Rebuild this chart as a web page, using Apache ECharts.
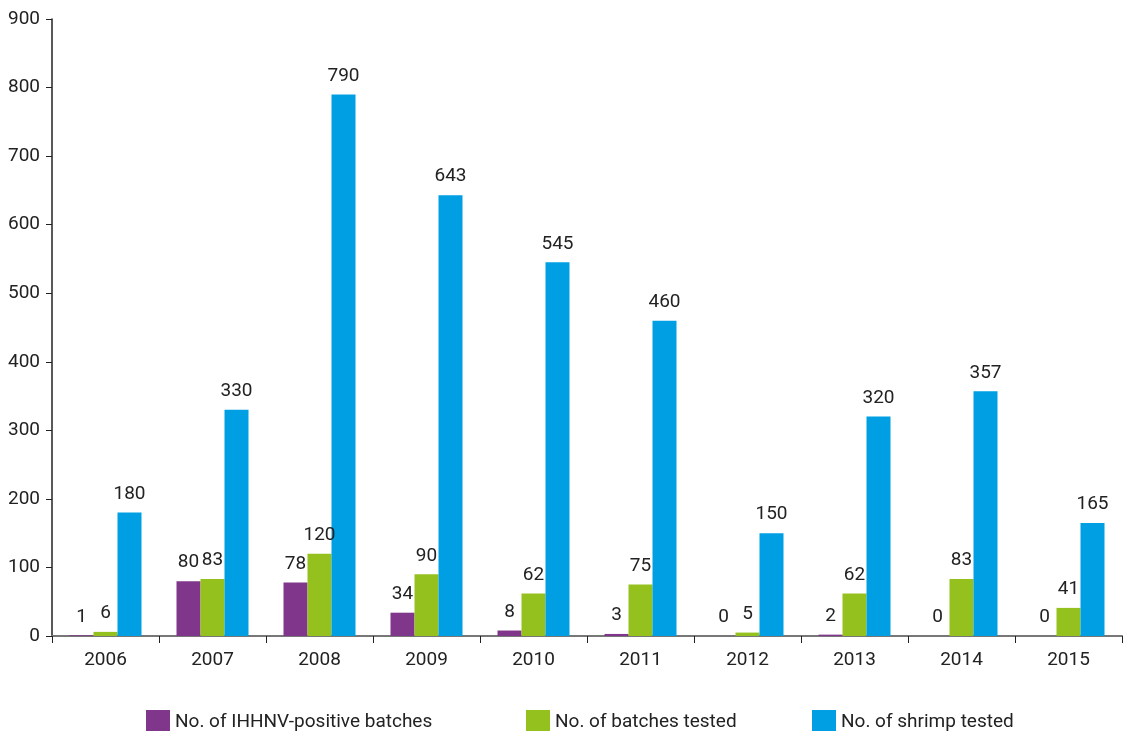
<!DOCTYPE html>
<html><head><meta charset="utf-8">
<script src="https://cdn.jsdelivr.net/npm/echarts@6/dist/echarts.min.js"></script>
<style>html,body{margin:0;padding:0;background:#fff}#c{width:1130px;height:731px}</style>
</head><body><div id="c"></div>
<script>
const years = ['2006','2007','2008','2009','2010','2011','2012','2013','2014','2015'];
const positive = [1,80,78,34,8,3,0,2,0,0];
const batches = [6,83,120,90,62,75,5,62,83,41];
const shrimp = [180,330,790,643,545,460,150,320,357,165];
const names = ['No. of IHHNV-positive batches','No. of batches tested','No. of shrimp tested'];
const colors = ['#80368a','#95c11f','#009fe3'];
const FONT = '"Liberation Sans Narrow", "Roboto", sans-serif';
const chart = echarts.init(document.getElementById('c'));
const mk = (i, data) => ({
  name: names[i], type: 'bar', data: data, barWidth: 24, barGap: '0%',
  itemStyle: {color: colors[i]},
  label: {show: true, position: 'top', distance: 9, color: '#222', fontSize: 19, fontFamily: FONT}
});
const legendPos = [141, 521, 807];
chart.setOption({
  animation: false,
  textStyle: {fontFamily: FONT},
  grid: {left: 52, right: 8, top: 19, bottom: 95},
  legend: names.map((n, i) => ({
    data: [n], left: legendPos[i], top: 705, itemWidth: 24, itemHeight: 24, icon: 'rect',
    textStyle: {fontSize: 19, color: '#222', fontFamily: FONT}, itemGap: 10
  })),
  xAxis: {
    type: 'category', data: years,
    axisLine: {lineStyle: {color: '#777', width: 2}},
    axisTick: {show: true, length: 7, lineStyle: {color: '#222'}},
    axisLabel: {fontSize: 19, color: '#222', margin: 15, fontFamily: FONT}
  },
  yAxis: {
    type: 'value', min: 0, max: 900, interval: 100,
    axisLine: {show: true, lineStyle: {color: '#222', width: 1.5}},
    axisTick: {show: true, length: 6, lineStyle: {color: '#222'}},
    splitLine: {show: false},
    axisLabel: {fontSize: 19, color: '#222', margin: 12, fontFamily: FONT}
  },
  series: [mk(0, positive), mk(1, batches), mk(2, shrimp)]
});
</script></body></html>
